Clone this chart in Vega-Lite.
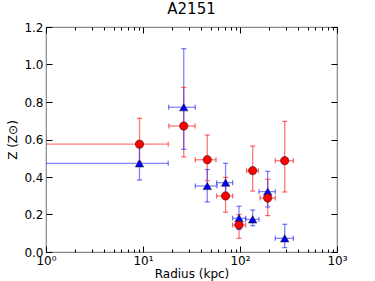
{
  "$schema": "https://vega.github.io/schema/vega-lite/v6.json",
  "width": 291,
  "height": 225,
  "autosize": {"type": "none"},
  "padding": {"left": 46, "top": 27, "right": 38, "bottom": 29},
  "title": {"text": "A2151", "fontSize": 15, "font": "DejaVu Sans", "fontWeight": "normal", "offset": 4, "color": "#000"},
  "config": {
    "view": {"stroke": "#888", "strokeWidth": 1.2},
    "axis": {"grid": false, "domain": false, "labelFont": "DejaVu Sans", "titleFont": "DejaVu Sans", "labelFontSize": 12, "titleFontSize": 12, "labelColor": "#000", "titleColor": "#000", "titleFontWeight": "normal", "tickColor": "#000"}
  },
  "data": {"values": [
    {"s": "red", "r": 9.2, "z": 0.575, "rlo": 0.3, "rhi": 18.2, "zlo": 0.48, "zhi": 0.713},
    {"s": "red", "r": 26.3, "z": 0.672, "rlo": 18.5, "rhi": 34.4, "zlo": 0.507, "zhi": 0.878},
    {"s": "red", "r": 46, "z": 0.492, "rlo": 34.6, "rhi": 56.6, "zlo": 0.38, "zhi": 0.624},
    {"s": "red", "r": 71, "z": 0.299, "rlo": 57.4, "rhi": 84, "zlo": 0.212, "zhi": 0.398},
    {"s": "red", "r": 97.7, "z": 0.144, "rlo": 84, "rhi": 114.5, "zlo": 0.073, "zhi": 0.2},
    {"s": "red", "r": 135, "z": 0.434, "rlo": 117, "rhi": 154.5, "zlo": 0.325, "zhi": 0.565},
    {"s": "red", "r": 193, "z": 0.288, "rlo": 161, "rhi": 231, "zlo": 0.194, "zhi": 0.388},
    {"s": "red", "r": 289, "z": 0.487, "rlo": 231, "rhi": 355, "zlo": 0.32, "zhi": 0.697},
    {"s": "blue", "r": 9.2, "z": 0.473, "rlo": 0.3, "rhi": 18.2, "zlo": 0.384, "zhi": 0.56},
    {"s": "blue", "r": 26.3, "z": 0.772, "rlo": 18.4, "rhi": 34.6, "zlo": 0.548, "zhi": 1.084},
    {"s": "blue", "r": 46, "z": 0.352, "rlo": 34.6, "rhi": 58, "zlo": 0.267, "zhi": 0.44},
    {"s": "blue", "r": 71, "z": 0.37, "rlo": 57.4, "rhi": 84, "zlo": 0.3, "zhi": 0.473},
    {"s": "blue", "r": 97.7, "z": 0.18, "rlo": 84, "rhi": 114.5, "zlo": 0.12, "zhi": 0.244},
    {"s": "blue", "r": 135, "z": 0.174, "rlo": 114, "rhi": 157, "zlo": 0.14, "zhi": 0.224},
    {"s": "blue", "r": 193, "z": 0.322, "rlo": 157, "rhi": 231, "zlo": 0.24, "zhi": 0.43},
    {"s": "blue", "r": 289, "z": 0.073, "rlo": 231, "rhi": 355, "zlo": 0.023, "zhi": 0.148}
  ]},
  "resolve": {"axis": {"x": "independent", "y": "independent"}},
  "layer": [
    {
      "mark": {"type": "point", "opacity": 0},
      "encoding": {
        "x": {"field": "r", "type": "quantitative", "scale": {"type": "log", "domain": [1, 1000]},
          "axis": {"orient": "bottom", "title": "Radius (kpc)", "titlePadding": 2,
            "values": [1,2,3,4,5,6,7,8,9,10,20,30,40,50,60,70,80,90,100,200,300,400,500,600,700,800,900,1000],
            "labelExpr": "datum.value == 1 ? '10⁰' : datum.value == 10 ? '10¹' : datum.value == 100 ? '10²' : datum.value == 1000 ? '10³' : ''",
            "tickSize": {"condition": {"test": "datum.value == 1 || datum.value == 10 || datum.value == 100 || datum.value == 1000", "value": -6}, "value": -3},
            "labelPadding": 9, "labelFlush": false}},
        "y": {"field": "z", "type": "quantitative", "scale": {"domain": [0, 1.2]},
          "axis": {"orient": "left", "title": "Z (Z⊙)", "titlePadding": 4, "values": [0, 0.2, 0.4, 0.6, 0.8, 1.0, 1.2], "format": ".1f", "tickSize": -6, "labelPadding": 9}}
      }
    },
    {
      "mark": {"type": "point", "opacity": 0},
      "encoding": {
        "x": {"field": "r", "type": "quantitative", "scale": {"type": "log", "domain": [1, 1000]},
          "axis": {"orient": "top", "title": null, "labels": false,
            "values": [1,2,3,4,5,6,7,8,9,10,20,30,40,50,60,70,80,90,100,200,300,400,500,600,700,800,900,1000],
            "tickSize": {"condition": {"test": "datum.value == 1 || datum.value == 10 || datum.value == 100 || datum.value == 1000", "value": -6}, "value": -3}}},
        "y": {"field": "z", "type": "quantitative", "scale": {"domain": [0, 1.2]},
          "axis": {"orient": "right", "title": null, "labels": false, "values": [0, 0.2, 0.4, 0.6, 0.8, 1.0, 1.2], "tickSize": -6}}
      }
    },
    {
      "mark": {"type": "rule", "strokeWidth": 1.3, "opacity": 0.6, "clip": true},
      "encoding": {
        "x": {"field": "rlo", "type": "quantitative", "scale": {"type": "log", "domain": [1, 1000]}, "axis": null},
        "x2": {"field": "rhi"},
        "y": {"field": "z", "type": "quantitative", "axis": null},
        "color": {"field": "s", "type": "nominal", "scale": {"domain": ["red", "blue"], "range": ["#ff2020", "#3030ff"]}, "legend": null}
      }
    },
    {
      "mark": {"type": "rule", "strokeWidth": 1.3, "opacity": 0.6, "clip": true},
      "encoding": {
        "x": {"field": "r", "type": "quantitative", "axis": null},
        "y": {"field": "zlo", "type": "quantitative", "axis": null},
        "y2": {"field": "zhi"},
        "color": {"field": "s", "type": "nominal", "scale": {"domain": ["red", "blue"], "range": ["#ff2020", "#3030ff"]}, "legend": null}
      }
    },
    {
      "transform": [{"fold": ["zlo", "zhi"], "as": ["k", "zend"]}],
      "mark": {"type": "tick", "orient": "horizontal", "size": 5, "thickness": 1.2, "opacity": 0.7, "clip": true},
      "encoding": {
        "x": {"field": "r", "type": "quantitative", "axis": null},
        "y": {"field": "zend", "type": "quantitative", "axis": null},
        "color": {"field": "s", "type": "nominal", "scale": {"domain": ["red", "blue"], "range": ["#ff2020", "#3030ff"]}, "legend": null}
      }
    },
    {
      "transform": [{"fold": ["rlo", "rhi"], "as": ["k", "rend"]}],
      "mark": {"type": "tick", "orient": "vertical", "size": 5, "thickness": 1.2, "opacity": 0.7, "clip": true},
      "encoding": {
        "x": {"field": "rend", "type": "quantitative", "axis": null},
        "y": {"field": "z", "type": "quantitative", "axis": null},
        "color": {"field": "s", "type": "nominal", "scale": {"domain": ["red", "blue"], "range": ["#ff2020", "#3030ff"]}, "legend": null}
      }
    },
    {
      "transform": [{"filter": "datum.s == 'blue'"}],
      "mark": {"type": "point", "shape": "triangle-up", "filled": true, "size": 70, "fill": "#0000ff", "stroke": "#222", "strokeWidth": 0.6, "opacity": 1},
      "encoding": {
        "x": {"field": "r", "type": "quantitative", "axis": null},
        "y": {"field": "z", "type": "quantitative", "axis": null}
      }
    },
    {
      "transform": [{"filter": "datum.s == 'red'"}],
      "mark": {"type": "point", "shape": "circle", "filled": true, "size": 70, "fill": "#ff0000", "stroke": "#222", "strokeWidth": 0.6, "opacity": 1},
      "encoding": {
        "x": {"field": "r", "type": "quantitative", "axis": null},
        "y": {"field": "z", "type": "quantitative", "axis": null}
      }
    }
  ]
}
